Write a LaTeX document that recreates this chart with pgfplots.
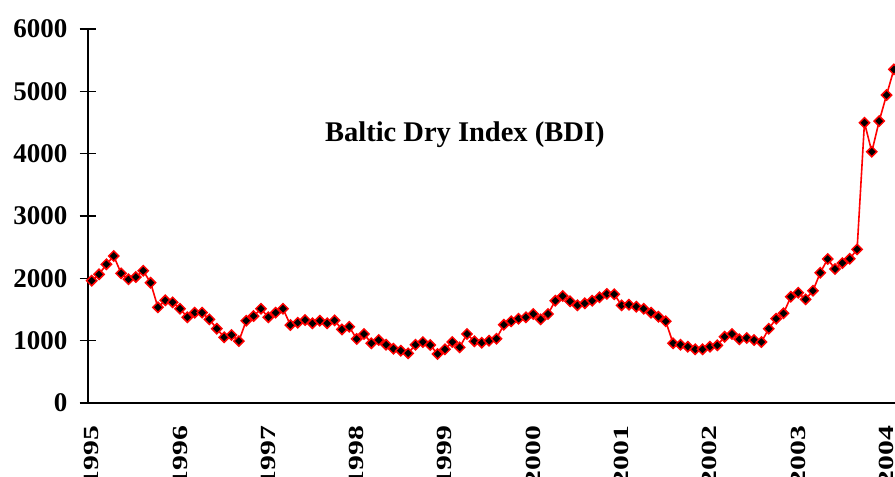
\documentclass[border=0pt]{standalone}
\usepackage{pgfplots}
\pgfplotsset{compat=1.18}
\usepackage{pgfplotstable}
\usepackage{fontspec}
\setmainfont{Liberation Serif}
\pgfplotstableread{
m v
0 1962
1 2064
2 2225
3 2358
4 2080
5 1984
6 2021
7 2122
8 1930
9 1535
10 1647
11 1615
12 1512
13 1375
14 1449
15 1449
16 1342
17 1192
18 1054
19 1091
20 994
21 1320
22 1395
23 1512
24 1375
25 1449
26 1512
27 1251
28 1288
29 1331
30 1278
31 1320
32 1278
33 1325
34 1180
35 1224
36 1027
37 1107
38 958
39 1010
40 935
41 871
42 839
43 797
44 935
45 978
46 930
47 786
48 861
49 978
50 893
51 1107
52 990
53 967
54 999
55 1031
56 1256
57 1310
58 1352
59 1375
60 1428
61 1342
62 1428
63 1641
64 1716
65 1631
66 1567
67 1599
68 1641
69 1695
70 1750
71 1745
72 1567
73 1577
74 1545
75 1512
76 1449
77 1384
78 1310
79 958
80 935
81 903
82 861
83 861
84 903
85 925
86 1063
87 1107
88 1022
89 1043
90 1010
91 978
92 1192
93 1352
94 1439
95 1705
96 1769
97 1663
98 1801
99 2090
100 2310
101 2150
102 2245
103 2313
104 2465
105 4496
106 4031
107 4523
108 4940
109 5352
}\bdi
\newcommand{\yl}[1]{\scalebox{1.1}[0.8]{#1}}
\begin{document}
\begin{tikzpicture}
\begin{axis}[name=ax, scale only axis, width=807pt, height=374pt,
  xmin=-0.5, xmax=109.15, ymin=0, ymax=6000,
  axis lines=left, axis line style={-, line width=1.2pt, black},
  xtick={0,12,24,36,48,60,72,84,96,108},
  xticklabels={\yl{1995},\yl{1996},\yl{1997},\yl{1998},\yl{1999},\yl{2000},\yl{2001},\yl{2002},\yl{2003},\yl{2004}},
  x tick style={draw=none},
  ytick={0,1000,2000,3000,4000,5000,6000},
  y tick style={line width=1.2pt, black},
  tick align=center, major tick length=17pt,
  /pgf/number format/assume math mode=true,
  /pgf/number format/1000 sep={},
  ticklabel style={font=\fontsize{27}{30}\selectfont\bfseries},
  yticklabel style={anchor=east, inner sep=0pt, xshift=-12pt},
  xticklabel style={rotate=90, anchor=east, inner sep=0pt},
  xticklabel shift=14pt,
]
\addplot[red, line width=1.6pt, mark=square*, mark size=3.6pt,
  mark options={rotate=45, fill=black, draw=red, line width=1.5pt}] table[x=m, y=v] {\bdi};
\node[anchor=base, font=\fontsize{28.5}{32}\selectfont\bfseries] at (axis cs:50.7,4200) {Baltic Dry Index (BDI)};
\end{axis}
\pgfresetboundingbox
\path ([xshift=-88pt,yshift=-74pt]ax.south west) rectangle ([yshift=29pt]ax.north east);
\end{tikzpicture}
\end{document}
